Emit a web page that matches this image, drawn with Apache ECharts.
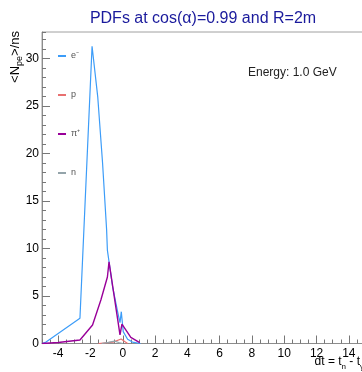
<!DOCTYPE html>
<html>
<head>
<meta charset="utf-8">
<script src="https://cdn.jsdelivr.net/npm/echarts@6/dist/echarts.min.js"></script>
<style>html,body{margin:0;padding:0;background:#fff;}#c{width:362px;height:372px;}</style>
</head>
<body>
<div id="c"></div>
<script>
// ---- data ----
var seriesNames = ['e-', 'p', 'π+', 'n'];
var legendLabels = ['e⁻', 'p', 'π⁺', 'n'];
var eX = [-5.0, -4.75, -2.65, -1.9, -1.55, -1.25, -1.0, -0.95, -0.63, -0.3, -0.17, -0.09, 0.03, 0.3, 0.6, 1.1];
var eY = [0.0, 0.15, 2.65, 31.3, 26.0, 19.0, 12.0, 9.8, 6.0, 3.2, 2.2, 3.35, 1.25, 0.45, 0.15, 0.0];
var pX = [-1.5, -0.6, -0.1, 0.12, 0.3];
var pY = [0.0, 0.15, 0.47, 0.2, 0.0];
var piX = [-5.0, -4.0, -2.65, -1.87, -1.35, -0.95, -0.85, -0.17, -0.05, 0.5, 1.05];
var piY = [0.0, 0.1, 0.37, 1.95, 4.6, 7.0, 8.6, 0.9, 2.05, 0.65, 0.1];
var nX = [-1.3, -0.9, -0.5, -0.25, 0.0];
var nY = [0.0, 0.12, 0.25, 0.1, 0.0];
var xMin = -5, xMax = 15, yMin = 0, yMax = 32.8;
var titleText = 'PDFs at cos(α)=0.99 and R=2m';
var energyText = 'Energy: 1.0 GeV';

function pairs(xs, ys) { return xs.map(function (x, i) { return [x, ys[i]]; }); }

var FONT = 'Liberation Sans, Arial, Helvetica, sans-serif';
var axisGrey = '#8c8c8c';
var colors = ['#3c9cf8', '#e87070', '#990099', '#94a4aa'];

var chart = echarts.init(document.getElementById('c'), null, { renderer: 'canvas' });
var gridRect = { left: 42, top: 32, right: -3, bottom: 28.5, containLabel: false, outerBoundsMode: 'none' };

var option = {
  animation: false,
  backgroundColor: '#ffffff',
  textStyle: { fontFamily: FONT },
  title: [
    { text: titleText, left: 198, top: 6, textAlign: 'center',
      textStyle: { fontFamily: FONT, fontSize: 16, fontWeight: 'normal', color: '#1a1a9c' } },
    { text: energyText, left: 243, top: 62,
      textStyle: { fontFamily: FONT, fontSize: 12, fontWeight: 'normal', color: '#222' } }
  ],
  legend: {
    data: seriesNames,
    orient: 'vertical',
    left: 53, top: 46,
    icon: 'rect', itemWidth: 8, itemHeight: 2, itemGap: 29,
    textStyle: { fontFamily: FONT, fontSize: 9, color: '#555', lineHeight: 10 },
    formatter: function (name) { return legendLabels[seriesNames.indexOf(name)]; },
    selectedMode: false
  },
  grid: [
    Object.assign({ show: true, borderColor: '#a0a0a0', borderWidth: 1, backgroundColor: 'transparent' }, gridRect),
    Object.assign({ show: false }, gridRect)
  ],
  xAxis: [
    { type: 'value', gridIndex: 0, min: xMin, max: xMax, splitNumber: 10, position: 'bottom',
      axisLine: { show: true, onZero: false, lineStyle: { color: axisGrey, width: 1 } },
      axisTick: { show: true, inside: true, length: 8, lineStyle: { color: '#777' } },
      axisLabel: { show: true, showMinLabel: false, showMaxLabel: false, fontSize: 12, color: '#000', margin: 4, fontFamily: FONT },
      splitLine: { show: false } },
    { type: 'value', gridIndex: 1, min: xMin, max: xMax, interval: 0.5, position: 'bottom',
      axisLine: { show: false, onZero: false },
      axisTick: { show: true, inside: true, length: 4, lineStyle: { color: '#777' } },
      axisLabel: { show: false }, splitLine: { show: false } }
  ],
  yAxis: [
    { type: 'value', gridIndex: 0, min: yMin, max: yMax, interval: 5, position: 'left',
      axisLine: { show: true, onZero: false, lineStyle: { color: axisGrey, width: 1 } },
      axisTick: { show: true, inside: true, length: 8, lineStyle: { color: '#777' } },
      axisLabel: { show: true, showMaxLabel: false, fontSize: 12, color: '#000', margin: 3, fontFamily: FONT },
      splitLine: { show: false } },
    { type: 'value', gridIndex: 1, min: yMin, max: yMax, interval: 1, position: 'left',
      axisLine: { show: false, onZero: false },
      axisTick: { show: true, inside: true, length: 4, lineStyle: { color: '#777' } },
      axisLabel: { show: false }, splitLine: { show: false } }
  ],
  graphic: [
    { type: 'text', x: 364, y: 353, z: 100,
      style: { text: '{n|dt = t}{s|n}{n| - t}{s|γ}', align: 'right', verticalAlign: 'top',
        rich: {
          n: { fontFamily: FONT, fontSize: 12, fill: '#000', lineHeight: 18 },
          s: { fontFamily: FONT, fontSize: 8, fill: '#000', lineHeight: 10, verticalAlign: 'bottom' }
        } } },
    { type: 'text', x: 15, y: 31, rotation: Math.PI / 2, z: 100,
      style: { text: '{n|<N}{s|pe}{n|>/ns}', align: 'right', verticalAlign: 'middle',
        rich: {
          n: { fontFamily: FONT, fontSize: 13, fill: '#000', lineHeight: 18 },
          s: { fontFamily: FONT, fontSize: 9, fill: '#000', lineHeight: 10, verticalAlign: 'bottom' }
        } } }
  ],
  series: [
    { name: seriesNames[0], type: 'line', xAxisIndex: 0, yAxisIndex: 0, data: pairs(eX, eY), showSymbol: false, symbol: 'none',
      lineStyle: { color: colors[0], width: 1.2 }, itemStyle: { color: colors[0] }, clip: true },
    { name: seriesNames[1], type: 'line', xAxisIndex: 0, yAxisIndex: 0, data: pairs(pX, pY), showSymbol: false, symbol: 'none',
      lineStyle: { color: colors[1], width: 1.2 }, itemStyle: { color: colors[1] }, clip: true },
    { name: seriesNames[2], type: 'line', xAxisIndex: 0, yAxisIndex: 0, data: pairs(piX, piY), showSymbol: false, symbol: 'none',
      lineStyle: { color: colors[2], width: 1.4 }, itemStyle: { color: colors[2] }, clip: true },
    { name: seriesNames[3], type: 'line', xAxisIndex: 0, yAxisIndex: 0, data: pairs(nX, nY), showSymbol: false, symbol: 'none',
      lineStyle: { color: colors[3], width: 1.2 }, itemStyle: { color: colors[3] }, clip: true },
    { name: 'minor-ticks', type: 'line', xAxisIndex: 1, yAxisIndex: 1, data: [], silent: true, symbol: 'none' }
  ]
};
chart.setOption(option);
</script>
</body>
</html>
